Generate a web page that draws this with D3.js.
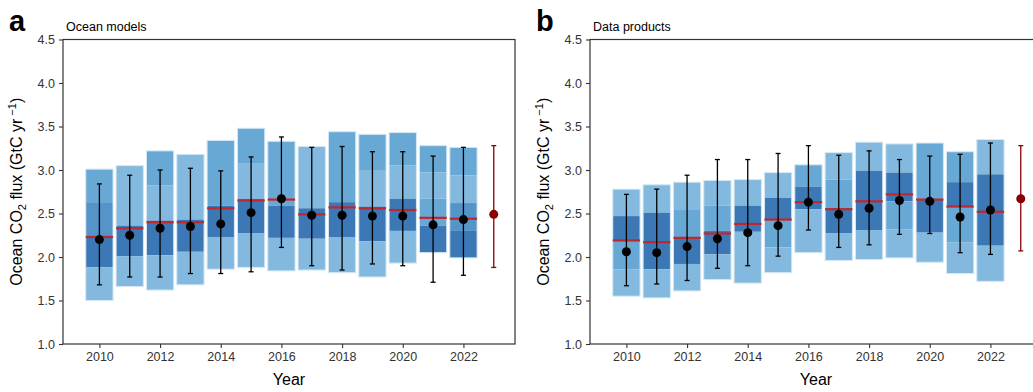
<!DOCTYPE html>
<html>
<head>
<meta charset="utf-8">
<script src="https://cdn.jsdelivr.net/npm/d3@7"></script>
<style>
  body { margin: 0; background: #fff; }
  svg { font-family: "Liberation Sans", Arial, sans-serif; }
</style>
</head>
<body>
<svg id="chart" width="1033" height="392"></svg>
<script>
// years shown with boxes
var years = [2010, 2011, 2012, 2013, 2014, 2015, 2016, 2017, 2018, 2019, 2020, 2021, 2022];
var xTicks = [2010, 2012, 2014, 2016, 2018, 2020, 2022];
var yTicks = [1.0, 1.5, 2.0, 2.5, 3.0, 3.5, 4.0, 4.5];

// ---- Ocean models ----
// band edges per year, top to bottom
var modelEdges = [
	[3.01, 2.63, 2.23, 1.88, 1.50],
	[3.05, 2.36, 2.01, 1.66],
	[3.22, 2.82, 2.42, 2.02, 1.62],
	[3.18, 2.43, 2.06, 1.68],
	[3.34, 2.59, 2.23, 1.86],
	[3.48, 3.08, 2.67, 2.27, 1.88],
	[3.33, 2.59, 2.22, 1.84],
	[3.27, 2.56, 2.21, 1.85],
	[3.44, 2.63, 2.23, 1.82],
	[3.41, 3.00, 2.58, 2.18, 1.77],
	[3.43, 3.05, 2.67, 2.30, 1.93],
	[3.28, 2.97, 2.67, 2.36, 2.05],
	[3.26, 2.94, 2.62, 2.30, 1.99]
];
// shade of each band (L light, M medium, D2 mid dark, D dark)
var modelShades = [
	["M", "D2", "D", "L"],
	["L", "D", "L"],
	["M", "L", "D", "L"],
	["L", "D", "L"],
	["M", "D", "L"],
	["M", "L", "D", "L"],
	["M", "D", "L"],
	["L", "D", "L"],
	["M", "D", "L"],
	["M", "L", "D", "L"],
	["M", "L", "D", "L"],
	["M", "L", "M", "D"],
	["M", "L", "D2", "D"]
];
var modelMedian = [2.23, 2.33, 2.40, 2.40, 2.56, 2.65, 2.66, 2.49, 2.57, 2.56, 2.54, 2.45, 2.44];
var modelMean   = [2.20, 2.25, 2.33, 2.35, 2.38, 2.51, 2.67, 2.48, 2.48, 2.47, 2.47, 2.37, 2.43];
var modelHi     = [2.84, 2.94, 3.00, 3.02, 2.99, 3.15, 3.38, 3.26, 3.27, 3.21, 3.21, 3.16, 3.26];
var modelLo     = [1.68, 1.77, 1.77, 1.81, 1.81, 1.83, 2.11, 1.90, 1.85, 1.92, 1.90, 1.71, 1.79];

// ---- Data products ----
var productEdges = [
	[2.78, 2.47, 2.19, 1.86, 1.55],
	[2.83, 2.51, 1.86, 1.53],
	[2.86, 2.54, 2.22, 1.92, 1.61],
	[2.88, 2.59, 2.30, 2.03, 1.74],
	[2.89, 2.59, 2.29, 1.70],
	[2.97, 2.68, 2.43, 2.11, 1.82],
	[3.06, 2.81, 2.55, 2.05],
	[3.20, 2.89, 2.55, 2.27, 1.96],
	[3.32, 2.99, 2.31, 1.97],
	[3.30, 2.97, 2.64, 2.32, 1.99],
	[3.31, 2.66, 2.28, 1.94],
	[3.21, 2.86, 2.58, 2.17, 1.81],
	[3.35, 2.95, 2.13, 1.72]
];
var productShades = [
	["L", "D", "M", "L"],
	["L", "D", "L"],
	["L", "M", "D", "L"],
	["L", "M", "D", "L"],
	["L", "D", "L"],
	["L", "D", "M", "L"],
	["M", "D", "L"],
	["L", "M", "D", "L"],
	["L", "D", "L"],
	["L", "D", "M", "L"],
	["M", "D", "L"],
	["M", "D", "M", "L"],
	["L", "D", "L"]
];
var productMedian = [2.19, 2.17, 2.22, 2.27, 2.38, 2.43, 2.63, 2.55, 2.64, 2.72, 2.66, 2.58, 2.52];
var productMean   = [2.06, 2.05, 2.12, 2.21, 2.28, 2.36, 2.63, 2.49, 2.56, 2.65, 2.64, 2.46, 2.54];
var productHi     = [2.72, 2.78, 2.94, 3.12, 3.12, 3.19, 3.28, 3.17, 3.22, 3.12, 3.16, 3.18, 3.31];
var productLo     = [1.67, 1.69, 1.73, 1.87, 1.90, 2.01, 2.31, 2.11, 2.14, 2.26, 2.27, 2.05, 2.03];

// red estimate drawn after the last year
var gcbYear = 2023;
var modelGcb = { mean: 2.49, lo: 1.88, hi: 3.28 };
var productGcb = { mean: 2.67, lo: 2.07, hi: 3.28 };

var shadeColor = { L: "#83b9de", M: "#68a8d5", D2: "#5494c9", D: "#3b78b5" };

var svg = d3.select("#chart");

var plotTop = 39.5, plotBottom = 344, plotW = 452;

var y = d3.scaleLinear().domain([1.0, 4.5]).range([plotBottom, plotTop]);

function drawPanel(left, letter, title, edges, shades, median, mean, hi, lo, gcb) {
	var x = d3.scaleLinear().domain([2008.8, 2023.7]).range([left, left + plotW]);
	var bw = x(2010.9) - x(2010);
	var g = svg.append("g");

	years.forEach(function(yr, i) {
		var e = edges[i];
		var bars = g.append("g");
		for (var k = 0; k < e.length - 1; k++) {
			bars.append("rect")
				.attr("x", x(yr) - bw / 2)
				.attr("y", y(e[k]))
				.attr("width", bw)
				.attr("height", y(e[k + 1]) - y(e[k]))
				.attr("fill", shadeColor[shades[i][k]]);
		}
		bars.append("rect")
			.attr("x", x(yr) - bw / 2)
			.attr("y", y(e[0]))
			.attr("width", bw)
			.attr("height", y(e[e.length - 1]) - y(e[0]))
			.attr("fill", "none")
			.attr("stroke", "#d6e8f4")
			.attr("stroke-width", 1);
		// median
		g.append("line")
			.attr("x1", x(yr) - bw / 2).attr("x2", x(yr) + bw / 2)
			.attr("y1", y(median[i])).attr("y2", y(median[i]))
			.attr("stroke", "#c0272d").attr("stroke-width", 2.2);
	});

	function errBar(xv, m, l, h, col) {
		g.append("line")
			.attr("x1", x(xv)).attr("x2", x(xv))
			.attr("y1", y(h)).attr("y2", y(l))
			.attr("stroke", col).attr("stroke-width", 1.3);
		[l, h].forEach(function(v) {
			g.append("line")
				.attr("x1", x(xv) - 2.5).attr("x2", x(xv) + 2.5)
				.attr("y1", y(v)).attr("y2", y(v))
				.attr("stroke", col).attr("stroke-width", 1.3);
		});
		g.append("circle")
			.attr("cx", x(xv)).attr("cy", y(m))
			.attr("r", 4.5).attr("fill", col);
	}
	years.forEach(function(yr, i) {
		errBar(yr, mean[i], lo[i], hi[i], "#000");
	});
	errBar(gcbYear, gcb.mean, gcb.lo, gcb.hi, "#8b0000");

	// frame
	g.append("rect")
		.attr("x", left).attr("y", plotTop)
		.attr("width", plotW).attr("height", plotBottom - plotTop)
		.attr("fill", "none").attr("stroke", "#333").attr("stroke-width", 1.2);

	var xAxis = g.append("g")
		.attr("transform", "translate(0," + plotBottom + ")")
		.call(d3.axisBottom(x).tickValues(xTicks).tickFormat(d3.format("d")).tickSize(4).tickPadding(4));
	var yAxis = g.append("g")
		.attr("transform", "translate(" + left + ",0)")
		.call(d3.axisLeft(y).tickValues(yTicks).tickFormat(d3.format(".1f")).tickSize(4).tickPadding(4));
	[xAxis, yAxis].forEach(function(a) {
		a.select(".domain").remove();
		a.selectAll("line").attr("stroke", "#333").attr("stroke-width", 1.1);
		a.selectAll("text").attr("font-size", 12.5).attr("fill", "#333")
			.attr("font-family", "Liberation Sans, Arial, sans-serif");
	});

	// labels
	g.append("text")
		.attr("x", left - 54).attr("y", 31)
		.attr("font-size", 29).attr("font-weight", "bold")
		.text(letter);
	g.append("text")
		.attr("x", left + 3).attr("y", 31)
		.attr("font-size", 12.5)
		.text(title);
	g.append("text")
		.attr("x", left + plotW / 2).attr("y", 385)
		.attr("text-anchor", "middle")
		.attr("font-size", 16)
		.text("Year");

	var yl = g.append("text")
		.attr("transform", "translate(" + (left - 41) + "," + ((plotTop + plotBottom) / 2) + ") rotate(-90)")
		.attr("text-anchor", "middle")
		.attr("font-size", 16);
	yl.append("tspan").text("Ocean CO");
	yl.append("tspan").attr("font-size", 11).attr("dy", 4).text("2");
	yl.append("tspan").attr("dy", -4).text(" flux (GtC yr");
	yl.append("tspan").attr("font-size", 11).attr("dy", -6).text(" \u22121");
	yl.append("tspan").attr("dy", 6).text(")");
}

drawPanel(63, "a", "Ocean models", modelEdges, modelShades, modelMedian, modelMean, modelHi, modelLo, modelGcb);
drawPanel(590, "b", "Data products", productEdges, productShades, productMedian, productMean, productHi, productLo, productGcb);
</script>
</body>
</html>
